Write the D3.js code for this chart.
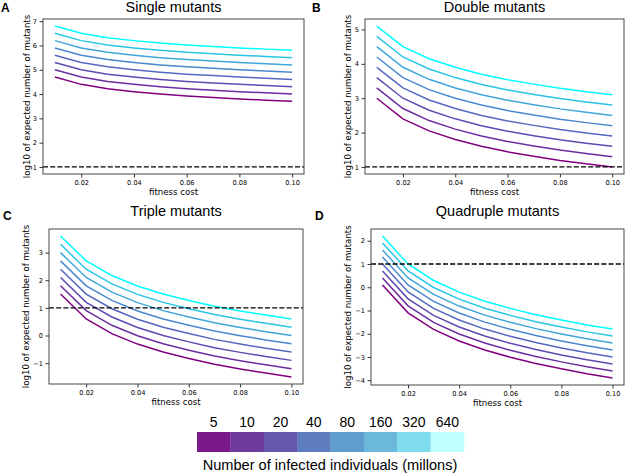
<!DOCTYPE html>
<html lang="en">
<head>
<meta charset="UTF-8">
<title>Expected number of mutants</title>
<script src="https://d3js.org/d3.v7.min.js"></script>
<style>
  body { margin: 0; background: #fff; }
  svg text { fill: #000; }
  .tick text { font-family: "DejaVu Sans", sans-serif; font-size: 6.6px; }
  .axlabel { font-family: "DejaVu Sans", sans-serif; font-size: 8.6px; }
  .title { font-family: "Liberation Sans", Arial, sans-serif; font-size: 14.5px; }
  .letter { font-family: "Liberation Sans", Arial, sans-serif; font-size: 12px; font-weight: bold; }
  .leg { font-family: "Liberation Sans", Arial, sans-serif; font-size: 14px; }
  .legtitle { font-family: "Liberation Sans", Arial, sans-serif; font-size: 14.6px; }
</style>
</head>
<body>
<script>
// fitness cost (x)
const fitnessCost = [0.01, 0.02, 0.03, 0.04, 0.05, 0.06, 0.07, 0.08, 0.09, 0.10];
// infected individuals (millions), one series each
const infected = [5, 10, 20, 40, 80, 160, 320, 640];
const lineColors = ['#800080', '#6a2ea2', '#5e4ab2', '#5468c1', '#4a88cf', '#3fa6dc', '#29c5e6', '#00ffff'];
const legendColors = ['#7a1a8a', '#6e3a9e', '#6657ac', '#5e7dbe', '#5f9dce', '#6ab8dc', '#7fdcec', '#c0ffff'];

// log10 of expected number of mutants, rows follow `infected`
const singleMutants = [
  [4.70, 4.40, 4.22, 4.10, 4.00, 3.92, 3.86, 3.80, 3.75, 3.70],
  [5.00, 4.70, 4.52, 4.40, 4.30, 4.22, 4.16, 4.10, 4.05, 4.00],
  [5.30, 5.00, 4.82, 4.70, 4.60, 4.52, 4.46, 4.40, 4.35, 4.30],
  [5.60, 5.30, 5.12, 5.00, 4.90, 4.82, 4.76, 4.70, 4.65, 4.60],
  [5.90, 5.60, 5.42, 5.30, 5.20, 5.12, 5.06, 5.00, 4.95, 4.90],
  [6.20, 5.90, 5.72, 5.60, 5.50, 5.42, 5.36, 5.30, 5.25, 5.20],
  [6.50, 6.20, 6.02, 5.90, 5.80, 5.72, 5.66, 5.60, 5.55, 5.50],
  [6.80, 6.50, 6.32, 6.20, 6.10, 6.02, 5.96, 5.90, 5.85, 5.80]
];
const doubleMutants = [
  [3.00, 2.40, 2.05, 1.80, 1.60, 1.44, 1.31, 1.19, 1.09, 1.00],
  [3.30, 2.70, 2.35, 2.10, 1.90, 1.74, 1.61, 1.49, 1.39, 1.30],
  [3.60, 3.00, 2.65, 2.40, 2.20, 2.04, 1.91, 1.79, 1.69, 1.60],
  [3.90, 3.30, 2.95, 2.70, 2.50, 2.34, 2.21, 2.09, 1.99, 1.90],
  [4.20, 3.60, 3.25, 3.00, 2.80, 2.64, 2.51, 2.39, 2.29, 2.20],
  [4.50, 3.90, 3.55, 3.30, 3.10, 2.94, 2.81, 2.69, 2.59, 2.50],
  [4.80, 4.20, 3.85, 3.60, 3.40, 3.24, 3.11, 2.99, 2.89, 2.80],
  [5.10, 4.50, 4.15, 3.90, 3.70, 3.54, 3.41, 3.29, 3.19, 3.10]
];
const tripleMutants = [
  [1.50, 0.60, 0.07, -0.31, -0.60, -0.83, -1.04, -1.21, -1.36, -1.50],
  [1.80, 0.90, 0.37, -0.01, -0.30, -0.53, -0.74, -0.91, -1.06, -1.20],
  [2.10, 1.20, 0.67, 0.29, 0.00, -0.23, -0.44, -0.61, -0.76, -0.90],
  [2.40, 1.50, 0.97, 0.59, 0.30, 0.07, -0.14, -0.31, -0.46, -0.60],
  [2.70, 1.80, 1.27, 0.89, 0.60, 0.37, 0.16, -0.01, -0.16, -0.30],
  [3.00, 2.10, 1.57, 1.19, 0.90, 0.67, 0.46, 0.29, 0.14, 0.00],
  [3.30, 2.40, 1.87, 1.49, 1.20, 0.97, 0.76, 0.59, 0.44, 0.30],
  [3.60, 2.70, 2.17, 1.79, 1.50, 1.27, 1.06, 0.89, 0.74, 0.60]
];
const quadrupleMutants = [
  [0.10, -1.10, -1.81, -2.31, -2.70, -3.01, -3.28, -3.51, -3.72, -3.90],
  [0.40, -0.80, -1.51, -2.01, -2.40, -2.71, -2.98, -3.21, -3.42, -3.60],
  [0.70, -0.50, -1.21, -1.71, -2.10, -2.41, -2.68, -2.91, -3.12, -3.30],
  [1.00, -0.20, -0.91, -1.41, -1.80, -2.11, -2.38, -2.61, -2.82, -3.00],
  [1.30, 0.10, -0.61, -1.11, -1.50, -1.81, -2.08, -2.31, -2.52, -2.70],
  [1.60, 0.40, -0.31, -0.81, -1.20, -1.51, -1.78, -2.01, -2.22, -2.40],
  [1.90, 0.70, -0.01, -0.51, -0.90, -1.21, -1.48, -1.71, -1.92, -2.10],
  [2.20, 1.00, 0.29, -0.21, -0.60, -0.91, -1.18, -1.41, -1.62, -1.80]
];
const xTicks = [0.02, 0.04, 0.06, 0.08, 0.10];
const threshold = 1;

const panels = [
  { letter: 'A', title: 'Single mutants', data: singleMutants, yTicks: [1, 2, 3, 4, 5, 6, 7],
    box: { l: 43, r: 304, t: 19, b: 174 }, letterX: 1, titleY: 11.5, letterY: 12, ylabX: 30 },
  { letter: 'B', title: 'Double mutants', data: doubleMutants, yTicks: [1, 2, 3, 4, 5],
    box: { l: 365, r: 624, t: 19, b: 174 }, letterX: 312, titleY: 11.5, letterY: 12, ylabX: 351 },
  { letter: 'C', title: 'Triple mutants', data: tripleMutants, yTicks: [-1, 0, 1, 2, 3],
    box: { l: 49, r: 303, t: 229, b: 384 }, letterX: 3, titleY: 216, letterY: 220, ylabX: 29 },
  { letter: 'D', title: 'Quadruple mutants', data: quadrupleMutants, yTicks: [-4, -3, -2, -1, 0, 1, 2],
    box: { l: 371, r: 624, t: 229, b: 385 }, letterX: 315, titleY: 216, letterY: 220, ylabX: 351 }
];

const W = 625, H = 474;
const svg = d3.select('body').append('svg').attr('width', W).attr('height', H);

panels.forEach(p => {
  const b = p.box;
  const g = svg.append('g');
  // matplotlib-style 5% margins
  const x = d3.scaleLinear().domain([0.0055, 0.1045]).range([b.l, b.r]);
  const all = p.data.flat().concat([threshold]);
  const [lo, hi] = d3.extent(all);
  const pad = (hi - lo) * 0.05;
  const y = d3.scaleLinear().domain([lo - pad, hi + pad]).range([b.b, b.t]);

  const line = d3.line().x((d, i) => x(fitnessCost[i])).y(d => y(d));
  g.selectAll('path.series')
    .data(p.data)
    .enter()
    .append('path')
    .attr('class', 'series')
    .attr('d', line)
    .attr('fill', 'none')
    .attr('stroke', (d, i) => lineColors[i])
    .attr('stroke-width', 1.5);

  g.append('line')
    .attr('x1', b.l).attr('x2', b.r)
    .attr('y1', y(threshold)).attr('y2', y(threshold))
    .attr('stroke', '#000')
    .attr('stroke-width', 1.3)
    .attr('stroke-dasharray', '5,2.2');

  g.append('rect')
    .attr('x', b.l).attr('y', b.t)
    .attr('width', b.r - b.l).attr('height', b.b - b.t)
    .attr('fill', 'none').attr('stroke', '#333').attr('stroke-width', 0.9);

  const xAxis = g.append('g')
    .attr('transform', 'translate(0,' + b.b + ')')
    .call(d3.axisBottom(x).tickValues(xTicks).tickFormat(d3.format('.2f')).tickSize(3.5).tickPadding(3));
  const yAxis = g.append('g')
    .attr('transform', 'translate(' + b.l + ',0)')
    .call(d3.axisLeft(y).tickValues(p.yTicks).tickFormat(d => d < 0 ? '\u2212' + Math.abs(d) : d).tickSize(3.5).tickPadding(2.5));
  [xAxis, yAxis].forEach(a => {
    a.select('.domain').remove();
    a.selectAll('.tick line').attr('stroke', '#333');
  });

  g.append('text')
    .attr('class', 'axlabel')
    .attr('x', (b.l + b.r) / 2)
    .attr('y', b.b + 21)
    .attr('text-anchor', 'middle')
    .text('fitness cost');

  g.append('text')
    .attr('class', 'axlabel')
    .attr('transform', 'translate(' + p.ylabX + ',' + ((b.t + b.b) / 2) + ') rotate(-90)')
    .attr('text-anchor', 'middle')
    .text('log10 of expected number of mutants');

  g.append('text')
    .attr('class', 'title')
    .attr('x', (b.l + b.r) / 2)
    .attr('y', p.titleY)
    .attr('text-anchor', 'middle')
    .text(p.title);

  g.append('text')
    .attr('class', 'letter')
    .attr('x', p.letterX)
    .attr('y', p.letterY)
    .text(p.letter);
});

// colour legend
const legX = d3.scaleBand().domain(infected).range([197, 464]).padding(0);
const legend = svg.append('g');
legend.selectAll('rect')
  .data(infected)
  .enter()
  .append('rect')
  .attr('x', d => legX(d))
  .attr('y', 432)
  .attr('width', legX.bandwidth() + 0.3)
  .attr('height', 20)
  .attr('fill', (d, i) => legendColors[i]);
legend.selectAll('text.val')
  .data(infected)
  .enter()
  .append('text')
  .attr('class', 'leg val')
  .attr('x', d => legX(d) + legX.bandwidth() / 2)
  .attr('y', 427)
  .attr('text-anchor', 'middle')
  .text(d => d);
legend.append('text')
  .attr('class', 'legtitle')
  .attr('x', 330)
  .attr('y', 470)
  .attr('text-anchor', 'middle')
  .text('Number of infected individuals (millons)');
</script>
</body>
</html>
